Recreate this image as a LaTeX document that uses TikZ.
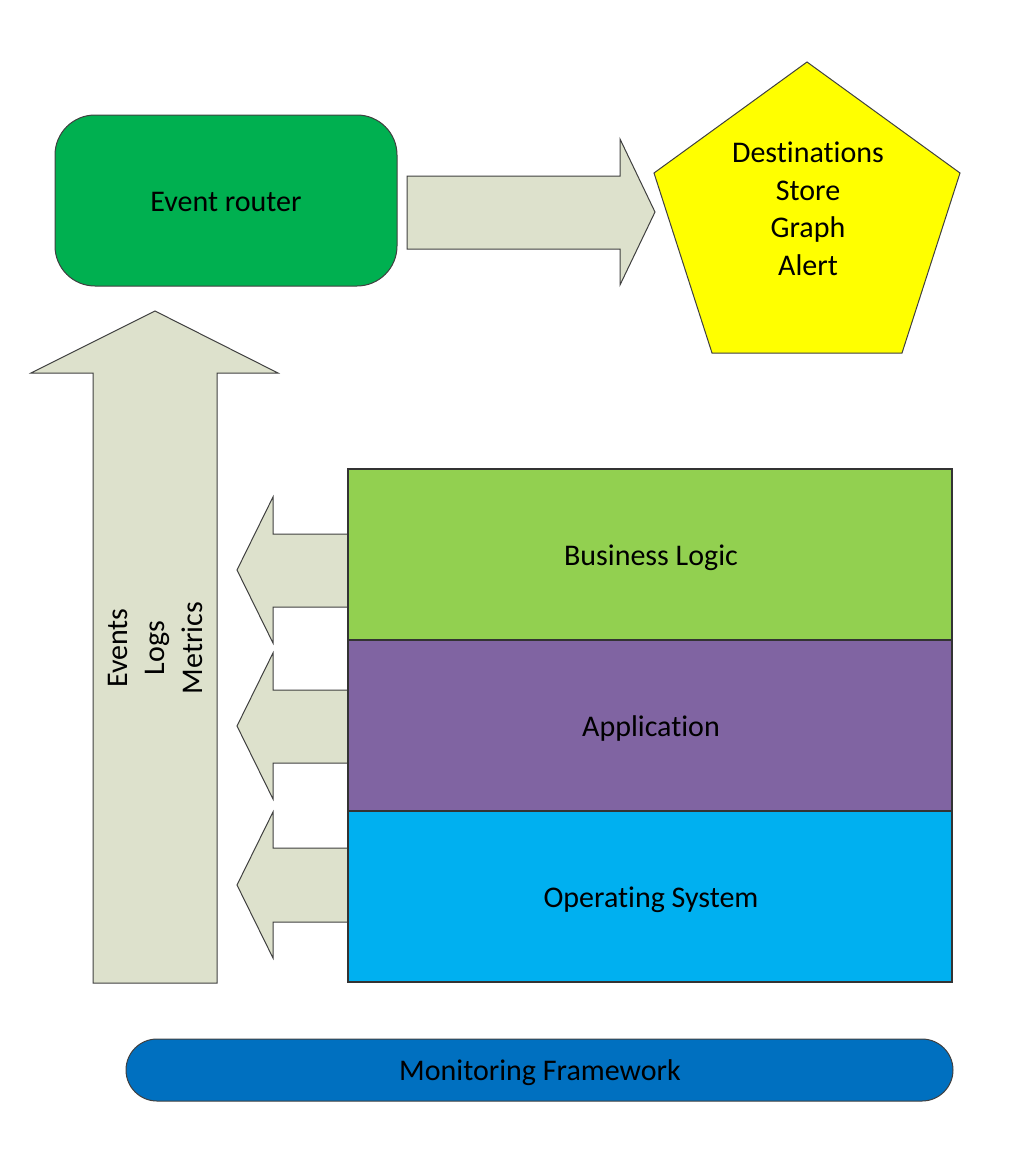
\documentclass[tikz,border=0pt]{standalone}
\usepackage{fontspec}
\setmainfont{Carlito}[RawFeature={-liga;-clig;-dlig}]
\definecolor{routergreen}{HTML}{00B050}
\definecolor{destyellow}{HTML}{FFFF00}
\definecolor{arrowfill}{HTML}{DDE1CC}
\definecolor{bizgreen}{HTML}{92D050}
\definecolor{apppurple}{HTML}{8064A2}
\definecolor{osblue}{HTML}{00B0F0}
\definecolor{monblue}{HTML}{0070C0}
\definecolor{edge}{HTML}{404040}
\tikzset{
  blockarrow/.style={draw=edge, fill=arrowfill, line width=1pt, line join=miter},
  layer/.style={draw=edge!80!black, line width=1.3pt, minimum width=604pt, minimum height=171pt, inner sep=0pt},
  lbl/.style={font=\fontsize{30}{37.5}\selectfont, align=center}
}
\begin{document}
\begin{tikzpicture}[x=1pt, y=-1pt]
\useasboundingbox (0,0) rectangle (1017,1149);
% Event router
\node[draw=edge, line width=1pt, fill=routergreen, rounded corners=40pt, minimum width=342pt, minimum height=171pt] (router) at (226,200.5) {};
\node[lbl] (routert) at (226,202) {Event router};
% right arrow
\draw[blockarrow] (407,176) -- (620,176) -- (620,139) -- (655,212) -- (620,285) -- (620,249) -- (407,249) -- cycle;
% pentagon
\draw[draw=edge, line width=1pt, fill=destyellow] (807,62) -- (960,173) -- (902,353) -- (712,353) -- (654,173) -- cycle;
\node[lbl] (dest) at (808,209) {Destinations\\Store\\Graph\\Alert};
% up arrow
\draw[blockarrow] (93,983) -- (93,373) -- (31,373) -- (155,311) -- (278,373) -- (217,373) -- (217,983) -- cycle;
\node[lbl, rotate=90] (ev) at (155,648) {Events\\Logs\\Metrics};
% left arrows
\draw[blockarrow] (349,534) -- (273,534) -- (273,497) -- (237,570) -- (273,643) -- (273,607) -- (349,607);
\draw[blockarrow] (349,690) -- (273,690) -- (273,653) -- (237,726) -- (273,799) -- (273,763) -- (349,763);
\draw[blockarrow] (349,848) -- (273,848) -- (273,812) -- (237,885) -- (273,958) -- (273,922) -- (349,922);
% layers
\node[layer, fill=bizgreen] (biz) at (650,554.5) {};
\node[layer, fill=apppurple] (app) at (650,725.5) {};
\node[layer, fill=osblue] (os) at (650,896.5) {};
\node[lbl] (bizt) at (651,557.5) {Business Logic};
\node[lbl] (appt) at (651,728.5) {Application};
\node[lbl] (ost) at (651,899.5) {Operating System};
% monitoring framework
\node[draw=edge, line width=1pt, fill=monblue, rounded corners=31pt, minimum width=827pt, minimum height=62pt, inner sep=0pt] (mon) at (539.5,1070) {};
\node[lbl] (mont) at (540,1073) {Monitoring Framework};
\end{tikzpicture}
\end{document}
